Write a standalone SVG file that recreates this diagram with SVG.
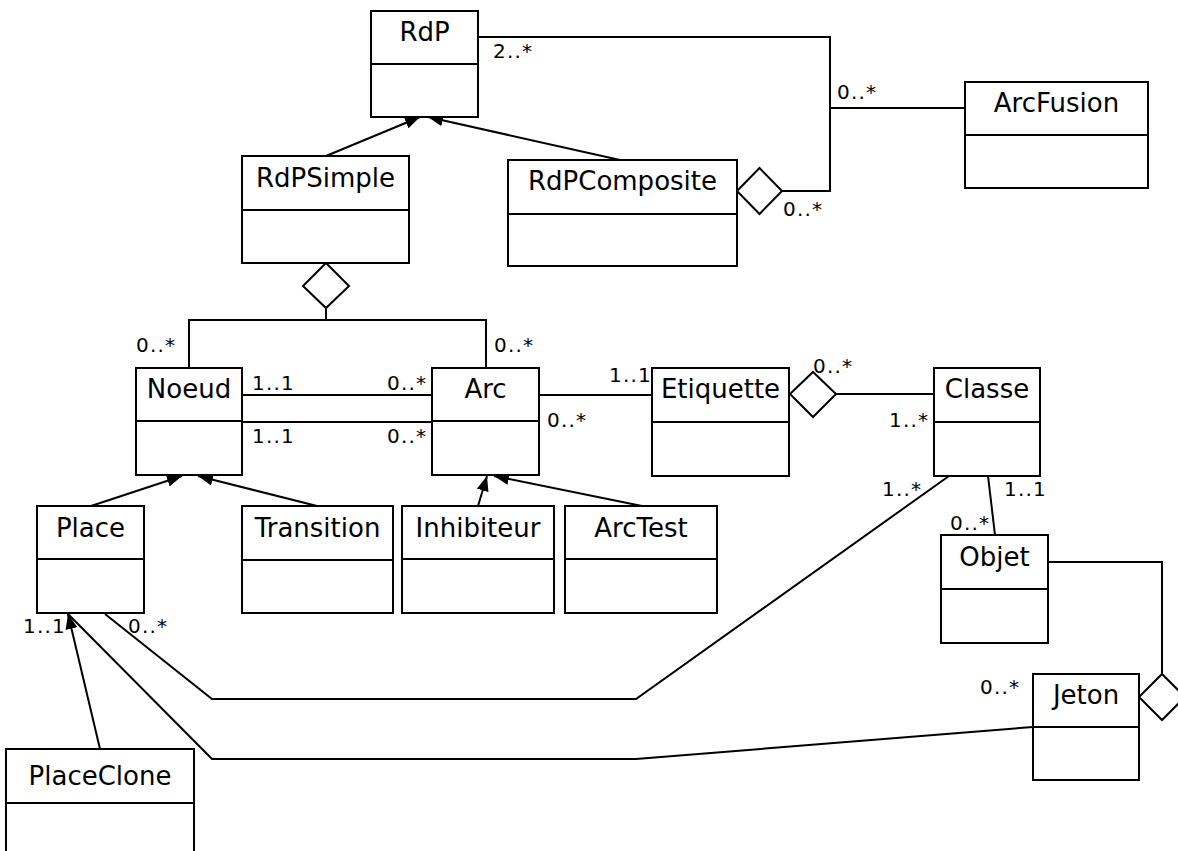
<svg xmlns="http://www.w3.org/2000/svg" width="1178" height="851" viewBox="0 0 1178 851">
  <style>
    .box { fill: #ffffff; stroke: #000000; stroke-width: 2; }
    .div { stroke: #000000; stroke-width: 2; }
    .name { font-family: "DejaVu Sans", Verdana, sans-serif; font-size: 26px; fill: #000000; text-anchor: middle; }
    .mult { font-family: "DejaVu Sans", Verdana, sans-serif; font-size: 20px; fill: #000000; letter-spacing: 1.2px; }
    .link { fill: none; stroke: #000000; stroke-width: 2; }
    .gen { fill: none; stroke: #000000; stroke-width: 2; marker-end: url(#tri); }
    .agg { fill: #ffffff; stroke: #000000; stroke-width: 2; }
  </style>
  <defs>
    <marker id="tri" markerUnits="userSpaceOnUse" markerWidth="16" markerHeight="12" refX="15" refY="6" orient="auto">
      <path d="M0,0 L15,6 L0,12 z" fill="#000000"/>
    </marker>
  </defs>
  <rect width="1178" height="851" fill="#ffffff"/>

  <!-- associations, aggregations and generalizations -->
  <g id="connectors">
    <path class="link" d="M478,37 H830 V191 H782"/>
    <path class="link" d="M830,108 H965"/>
    <polygon class="agg" points="737,191 759.5,168 782,191 759.5,214"/>

    <path class="gen" d="M326,156 L420,117"/>
    <path class="gen" d="M620,160 L428,117"/>

    <polygon class="agg" points="326,263 349,286 326,308 303,286"/>
    <path class="link" d="M326,308 V320"/>
    <path class="link" d="M189,368 V320 H486 V368"/>

    <path class="link" d="M242,395 H432"/>
    <path class="link" d="M242,422 H432"/>
    <path class="link" d="M539,395 H652"/>

    <polygon class="agg" points="790,394 813,372 836,394 813,417"/>
    <path class="link" d="M836,394 H934"/>

    <path class="gen" d="M91,506 L182,476"/>
    <path class="gen" d="M317,506 L198,476"/>
    <path class="gen" d="M478,506 L487,476"/>
    <path class="gen" d="M642,506 L494,476"/>

    <path class="link" d="M988,476 L995,535"/>
    <path class="link" d="M1048,562 H1162 V674"/>
    <polygon class="agg" points="1162,674 1185,697 1162,720 1139,697"/>

    <path class="link" d="M949,476 L636,699 H212 L105,614"/>
    <path class="link" d="M68,614 L212,759 H636 L1033,727"/>

    <path class="gen" d="M100,749 L68,614"/>
  </g>

  <!-- classes -->
  <g id="RdP">
    <rect class="box" x="371" y="11" width="107" height="106"/>
    <line class="div" x1="371" y1="64" x2="478" y2="64"/>
    <text class="name" x="424.5" y="41">RdP</text>
  </g>
  <g id="ArcFusion">
    <rect class="box" x="965" y="82" width="183" height="106"/>
    <line class="div" x1="965" y1="135" x2="1148" y2="135"/>
    <text class="name" x="1056.5" y="112">ArcFusion</text>
  </g>
  <g id="RdPSimple">
    <rect class="box" x="242" y="156" width="167" height="107"/>
    <line class="div" x1="242" y1="210" x2="409" y2="210"/>
    <text class="name" x="325.5" y="187">RdPSimple</text>
  </g>
  <g id="RdPComposite">
    <rect class="box" x="508" y="160" width="229" height="106"/>
    <line class="div" x1="508" y1="214" x2="737" y2="214"/>
    <text class="name" x="622.5" y="190">RdPComposite</text>
  </g>
  <g id="Noeud">
    <rect class="box" x="136" y="368" width="106" height="107"/>
    <line class="div" x1="136" y1="421" x2="242" y2="421"/>
    <text class="name" x="189" y="398">Noeud</text>
  </g>
  <g id="Arc">
    <rect class="box" x="432" y="368" width="107" height="107"/>
    <line class="div" x1="432" y1="421" x2="539" y2="421"/>
    <text class="name" x="485.5" y="398">Arc</text>
  </g>
  <g id="Etiquette">
    <rect class="box" x="652" y="368" width="137" height="108"/>
    <line class="div" x1="652" y1="422" x2="789" y2="422"/>
    <text class="name" x="720.5" y="398">Etiquette</text>
  </g>
  <g id="Classe">
    <rect class="box" x="934" y="368" width="106" height="108"/>
    <line class="div" x1="934" y1="422" x2="1040" y2="422"/>
    <text class="name" x="987" y="398">Classe</text>
  </g>
  <g id="Place">
    <rect class="box" x="37" y="506" width="107" height="107"/>
    <line class="div" x1="37" y1="559" x2="144" y2="559"/>
    <text class="name" x="90.5" y="537">Place</text>
  </g>
  <g id="Transition">
    <rect class="box" x="242" y="506" width="151" height="107"/>
    <line class="div" x1="242" y1="560" x2="393" y2="560"/>
    <text class="name" x="317.5" y="537">Transition</text>
  </g>
  <g id="Inhibiteur">
    <rect class="box" x="402" y="506" width="152" height="107"/>
    <line class="div" x1="402" y1="559" x2="554" y2="559"/>
    <text class="name" x="478" y="537">Inhibiteur</text>
  </g>
  <g id="ArcTest">
    <rect class="box" x="565" y="506" width="152" height="107"/>
    <line class="div" x1="565" y1="559" x2="717" y2="559"/>
    <text class="name" x="641" y="537">ArcTest</text>
  </g>
  <g id="Objet">
    <rect class="box" x="941" y="535" width="107" height="108"/>
    <line class="div" x1="941" y1="589" x2="1048" y2="589"/>
    <text class="name" x="994.5" y="566">Objet</text>
  </g>
  <g id="Jeton">
    <rect class="box" x="1033" y="674" width="106" height="106"/>
    <line class="div" x1="1033" y1="727" x2="1139" y2="727"/>
    <text class="name" x="1086" y="704">Jeton</text>
  </g>
  <g id="PlaceClone">
    <rect class="box" x="6" y="749" width="188" height="120"/>
    <line class="div" x1="6" y1="803" x2="194" y2="803"/>
    <text class="name" x="100" y="785">PlaceClone</text>
  </g>

  <!-- multiplicities -->
  <g id="multiplicities">
    <text class="mult" x="493" y="58">2..*</text>
    <text class="mult" x="837" y="99">0..*</text>
    <text class="mult" x="783" y="216">0..*</text>
    <text class="mult" x="136" y="352">0..*</text>
    <text class="mult" x="494" y="352">0..*</text>
    <text class="mult" x="252" y="390">1..1</text>
    <text class="mult" x="387" y="390">0..*</text>
    <text class="mult" x="252" y="443">1..1</text>
    <text class="mult" x="387" y="443">0..*</text>
    <text class="mult" x="609" y="382">1..1</text>
    <text class="mult" x="547" y="427">0..*</text>
    <text class="mult" x="813" y="373">0..*</text>
    <text class="mult" x="889" y="427">1..*</text>
    <text class="mult" x="882" y="496">1..*</text>
    <text class="mult" x="1004" y="496">1..1</text>
    <text class="mult" x="950" y="530">0..*</text>
    <text class="mult" x="980" y="694">0..*</text>
    <text class="mult" x="23" y="633">1..1</text>
    <text class="mult" x="128" y="633">0..*</text>
  </g>
</svg>
